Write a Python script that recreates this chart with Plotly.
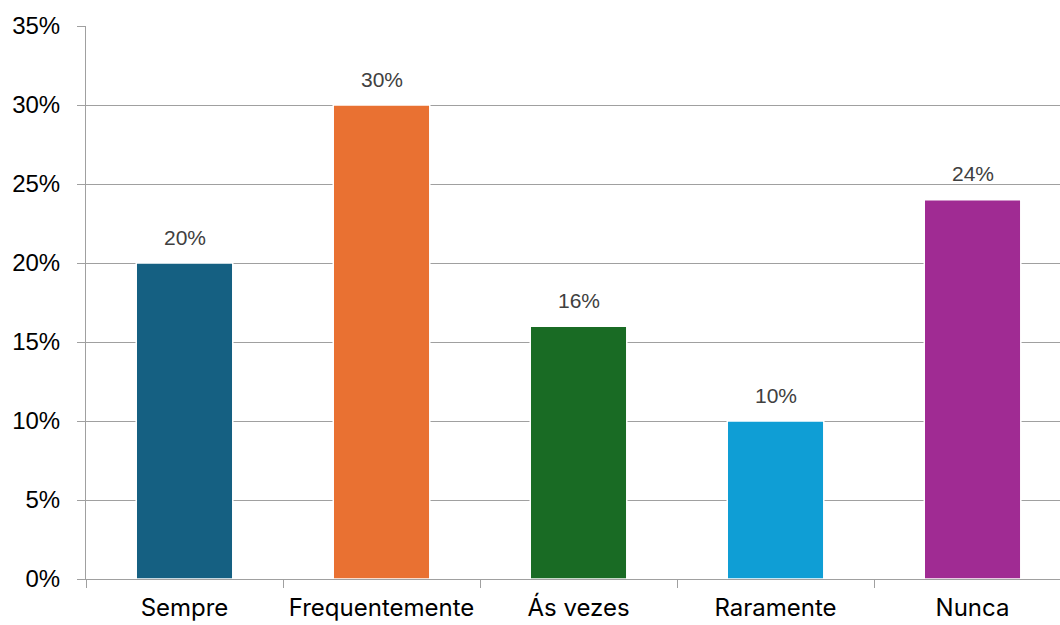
import plotly.graph_objects as go

categories = ["Sempre", "Frequentemente", "Ás vezes", "Raramente", "Nunca"]
values = [0.20, 0.30, 0.16, 0.10, 0.24]
labels = ["20%", "30%", "16%", "10%", "24%"]
colors = ["#156082", "#E97132", "#196B24", "#0F9ED5", "#A02B93"]
y_ticks = [0, 0.05, 0.10, 0.15, 0.20, 0.25, 0.30, 0.35]
y_ticklabels = ["0%", "5%", "10%", "15%", "20%", "25%", "30%", "35%"]

fig = go.Figure()
fig.add_trace(go.Bar(
    x=categories, y=values,
    marker=dict(color=colors, line=dict(color="white", width=1.5)),
    width=0.49,
    hoverinfo="skip",
))

for c, v, t in zip(categories, values, labels):
    fig.add_annotation(x=c, y=v, text=t, showarrow=False, yshift=26,
                       font=dict(family="Liberation Sans, Arial", size=21, color="#404040"))

fig.update_layout(
    width=1060, height=625,
    margin=dict(l=86, r=0, t=26, b=46),
    paper_bgcolor="white", plot_bgcolor="white",
    showlegend=False,
    xaxis=dict(
        type="category",
        range=[-0.5, 4.444],
        tickson="boundaries",
        ticks="outside", ticklen=8, tickcolor="#a0a0a0", tickwidth=1,
        showline=True, linecolor="#a0a0a0", linewidth=1,
        showgrid=False,
        automargin=False,
        ticklabelstandoff=7,
        tickfont=dict(family="Inter, Roboto, sans-serif", size=24, color="#000000"),
    ),
    yaxis=dict(
        range=[0, 0.35],
        tickvals=y_ticks, ticktext=y_ticklabels,
        ticks="outside", ticklen=8, tickcolor="#a0a0a0", tickwidth=1,
        showline=True, linecolor="#a0a0a0", linewidth=1,
        showgrid=True, gridcolor="#a0a0a0", gridwidth=1,
        zeroline=False,
        automargin=False,
        ticklabelstandoff=12,
        tickfont=dict(family="Liberation Sans, Arial", size=24, color="#000000"),
    ),
)

fig.write_html("out.html")
